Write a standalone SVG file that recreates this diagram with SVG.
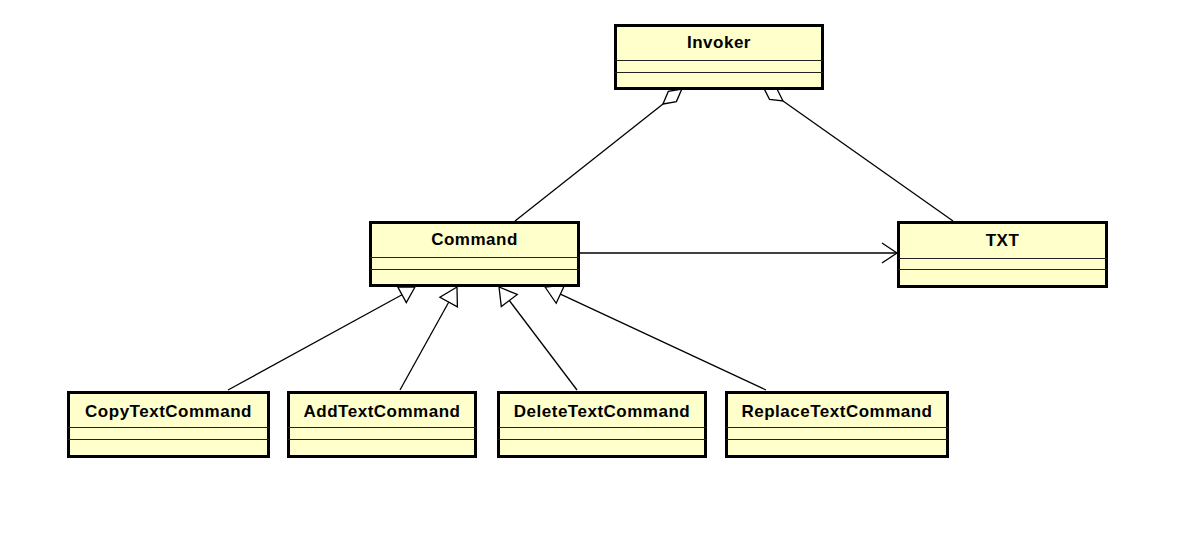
<svg xmlns="http://www.w3.org/2000/svg" width="1188" height="546" viewBox="0 0 1188 546">
<style>
.box{fill:#FFFFCC;stroke:#000;stroke-width:3}
.sep{stroke:#222;stroke-width:1}
.lbl{font-family:"Liberation Sans",Arial,sans-serif;font-weight:bold;font-size:17px;letter-spacing:0.5px;text-anchor:middle;fill:#000}
.edge{stroke:#000;stroke-width:1.3;fill:none}
.head{fill:#fff;stroke:#000;stroke-width:1.3;stroke-linejoin:miter}
</style>
<rect width="1188" height="546" fill="#fff"/>
<g id="connectors">
  <!-- Command to Invoker (aggregation) -->
  <line class="edge" x1="515" y1="221" x2="663" y2="104"/>
  <polygon class="head" points="663,104 676.4,101.6 681.8,89 668.3,91.4"/>
  <!-- TXT to Invoker (aggregation) -->
  <line class="edge" x1="953" y1="221" x2="783" y2="101"/>
  <polygon class="head" points="783,101 776.9,88.8 763.4,87.2 769.5,99.4"/>
  <!-- Command to TXT (association) -->
  <line class="edge" x1="580" y1="253" x2="896" y2="253"/>
  <polyline class="edge" points="882,243 897,253 882,263"/>
  <!-- Generalizations -->
  <line class="edge" x1="228" y1="390" x2="402" y2="294.7"/>
  <polygon class="head" points="415,287 397.7,286.8 406.3,302.6"/>
  <line class="edge" x1="400" y1="390" x2="448.8" y2="302"/>
  <polygon class="head" points="457,287 439.9,297.2 457.4,306.9"/>
  <line class="edge" x1="577" y1="390" x2="509.3" y2="300.5"/>
  <polygon class="head" points="499,287 501.3,306.5 517.3,294.5"/>
  <line class="edge" x1="766" y1="390" x2="560.4" y2="294.2"/>
  <polygon class="head" points="545,287 556.2,303.3 564.6,285.1"/>
</g>
<g id="Invoker">
  <rect class="box" x="615.5" y="25.5" width="207" height="63"/>
  <line class="sep" x1="615" y1="60.5" x2="823" y2="60.5"/>
  <line class="sep" x1="615" y1="72.5" x2="823" y2="72.5"/>
  <text class="lbl" x="719" y="48">Invoker</text>
</g>
<g id="Command">
  <rect class="box" x="370.5" y="222.5" width="208" height="63"/>
  <line class="sep" x1="370" y1="257.5" x2="579" y2="257.5"/>
  <line class="sep" x1="370" y1="269.5" x2="579" y2="269.5"/>
  <text class="lbl" x="474.5" y="245">Command</text>
</g>
<g id="TXT">
  <rect class="box" x="898.5" y="222.5" width="208" height="64"/>
  <line class="sep" x1="898" y1="258.5" x2="1107" y2="258.5"/>
  <line class="sep" x1="898" y1="269.5" x2="1107" y2="269.5"/>
  <text class="lbl" x="1002.5" y="246">TXT</text>
</g>
<g id="CopyTextCommand">
  <rect class="box" x="68.5" y="392.5" width="200" height="64"/>
  <line class="sep" x1="68" y1="427.5" x2="269" y2="427.5"/>
  <line class="sep" x1="68" y1="439.5" x2="269" y2="439.5"/>
  <text class="lbl" x="168.5" y="417">CopyTextCommand</text>
</g>
<g id="AddTextCommand">
  <rect class="box" x="288.5" y="392.5" width="187" height="64"/>
  <line class="sep" x1="288" y1="427.5" x2="476" y2="427.5"/>
  <line class="sep" x1="288" y1="439.5" x2="476" y2="439.5"/>
  <text class="lbl" x="382" y="417">AddTextCommand</text>
</g>
<g id="DeleteTextCommand">
  <rect class="box" x="498.5" y="392.5" width="207" height="64"/>
  <line class="sep" x1="498" y1="427.5" x2="706" y2="427.5"/>
  <line class="sep" x1="498" y1="439.5" x2="706" y2="439.5"/>
  <text class="lbl" x="602" y="417">DeleteTextCommand</text>
</g>
<g id="ReplaceTextCommand">
  <rect class="box" x="726.5" y="392.5" width="221" height="64"/>
  <line class="sep" x1="726" y1="427.5" x2="948" y2="427.5"/>
  <line class="sep" x1="726" y1="439.5" x2="948" y2="439.5"/>
  <text class="lbl" x="837" y="417">ReplaceTextCommand</text>
</g>
</svg>
